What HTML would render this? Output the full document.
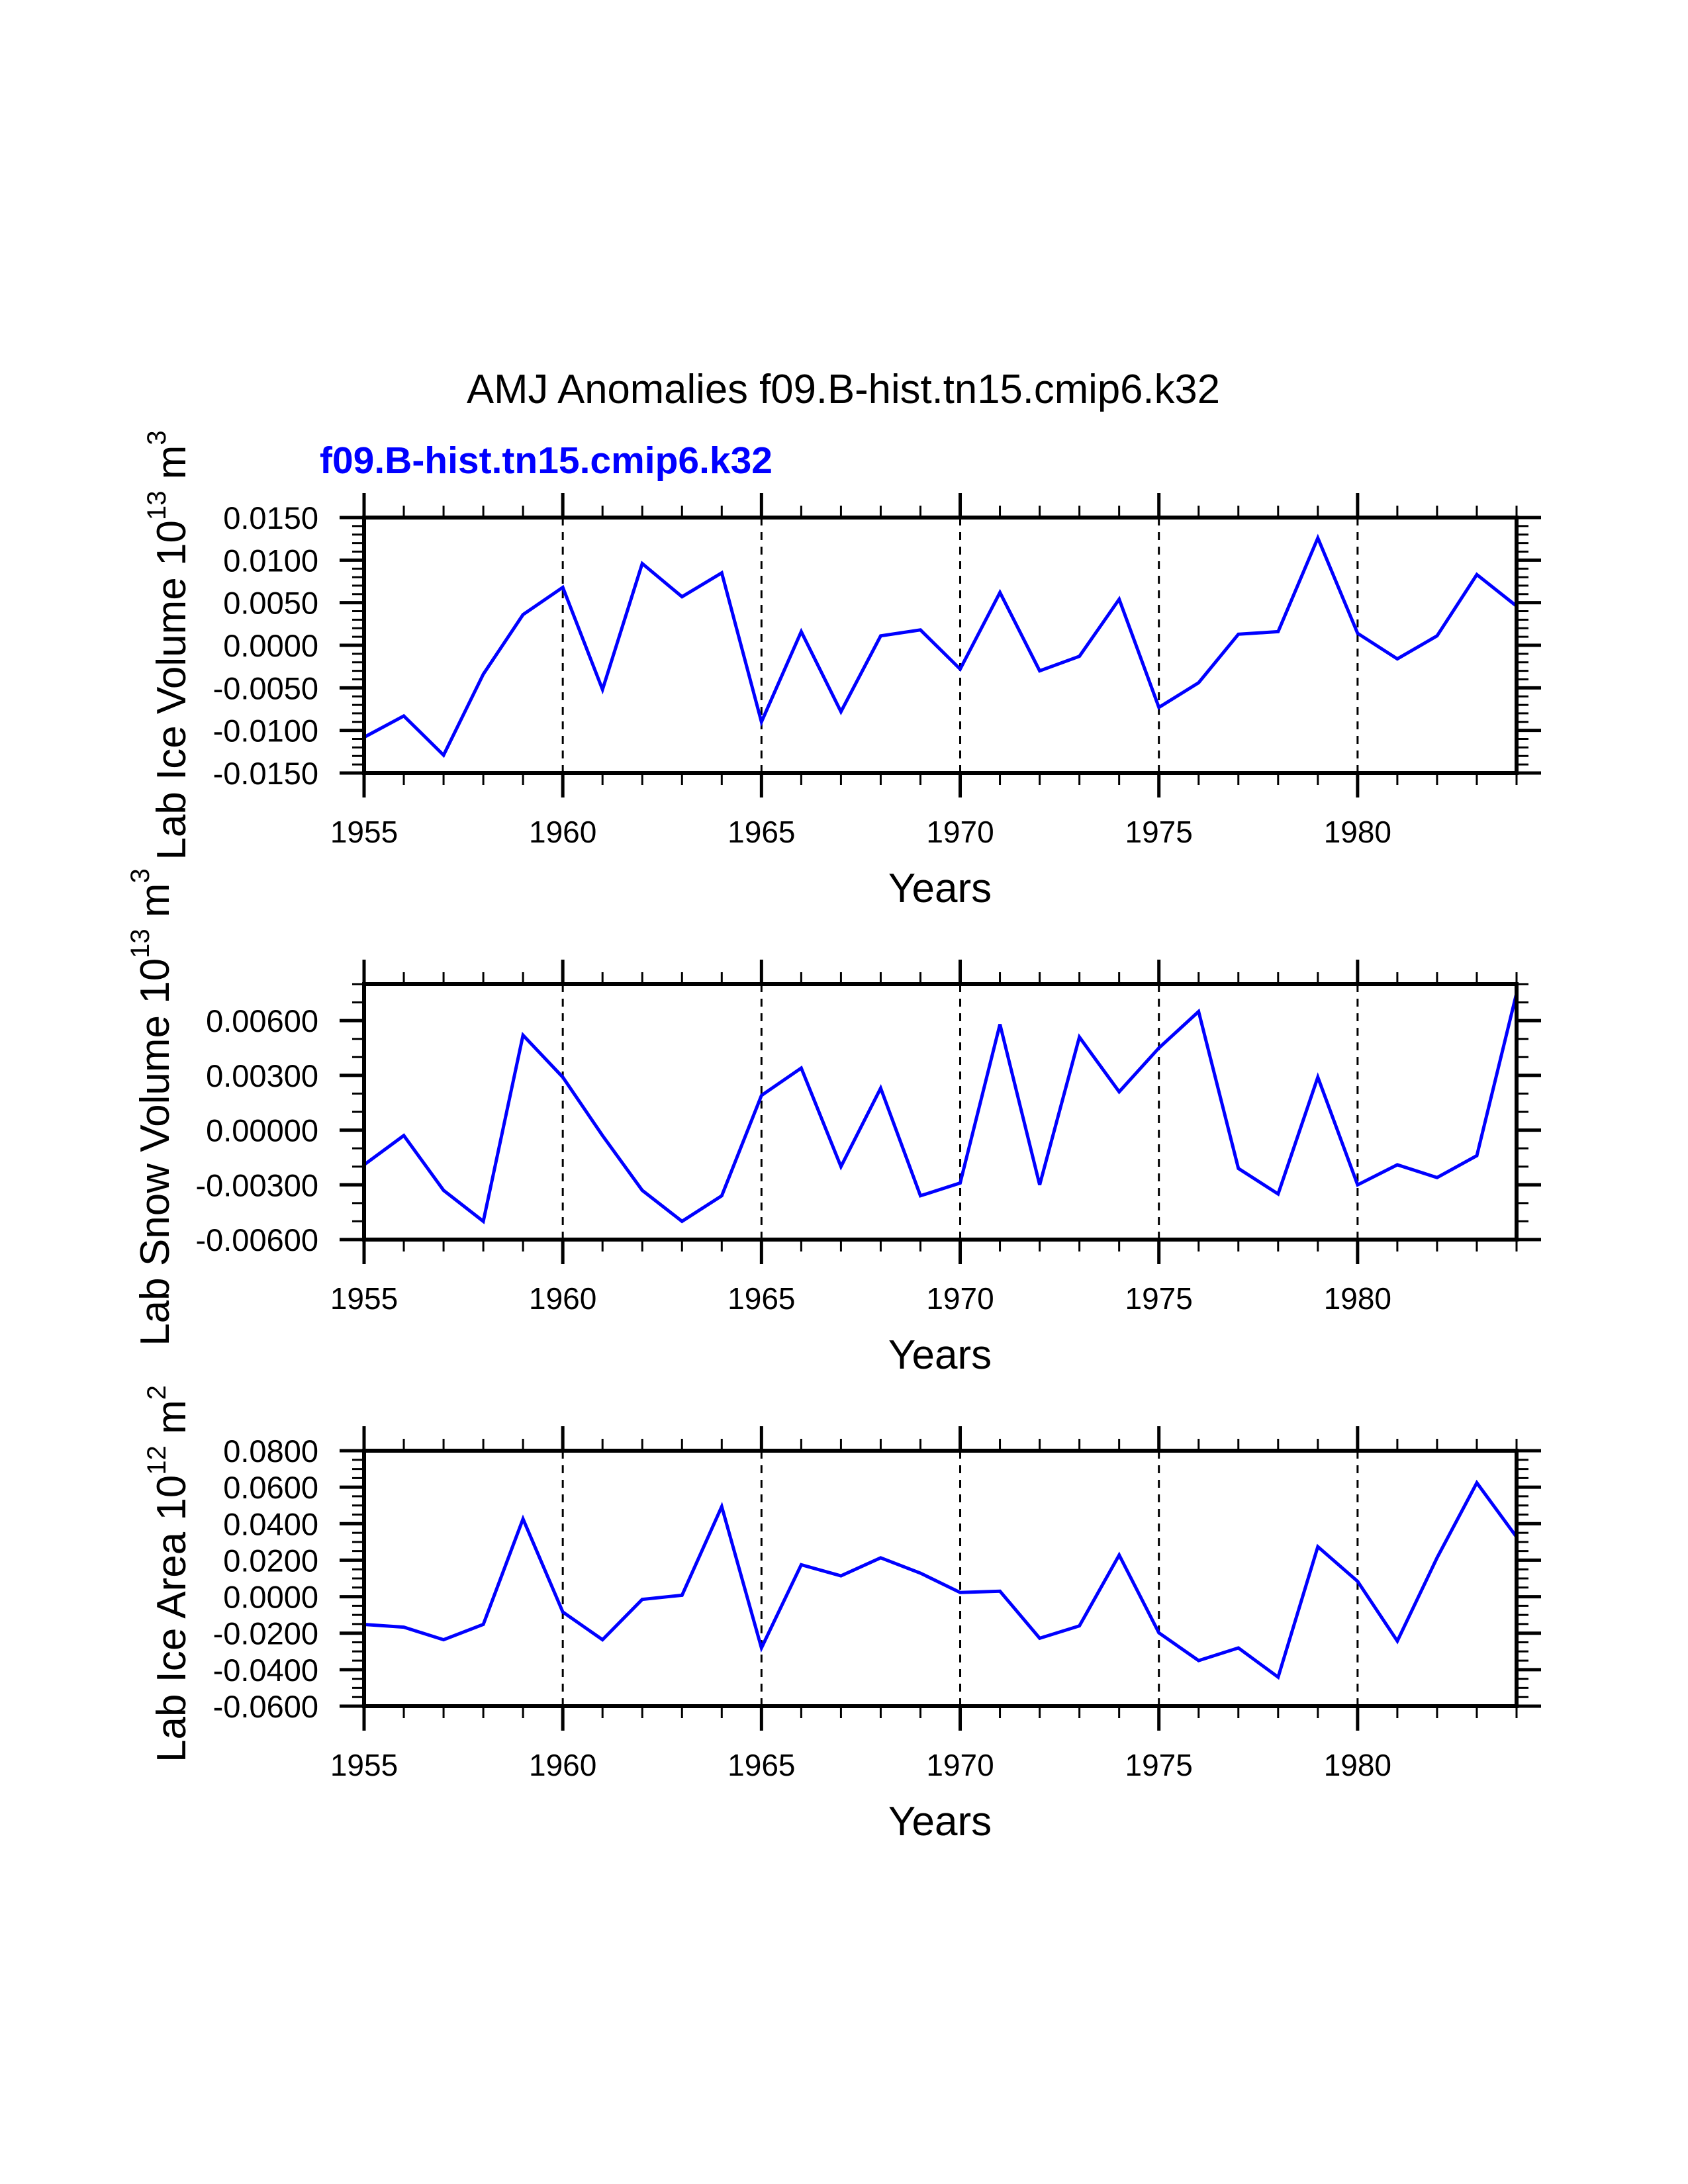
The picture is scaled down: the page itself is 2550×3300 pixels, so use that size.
<!DOCTYPE html>
<html>
<head>
<meta charset="utf-8">
<style>
  html, body { margin: 0; padding: 0; background: #fff; }
  svg { display: block; }
  text { font-family: "Liberation Sans", "DejaVu Sans", sans-serif; }
</style>
</head>
<body>
<svg id="chart" width="2550" height="3300" viewBox="0 0 2550 3300" xmlns="http://www.w3.org/2000/svg">
  <rect x="0" y="0" width="2550" height="3300" fill="#fff"/>
  <text x="705" y="609" font-size="62" textLength="1138" lengthAdjust="spacingAndGlyphs" fill="#000">AMJ Anomalies f09.B-hist.tn15.cmip6.k32</text>
  <text x="483" y="715" font-size="57" font-weight="bold" textLength="684" lengthAdjust="spacingAndGlyphs" fill="#0000ff">f09.B-hist.tn15.cmip6.k32</text>
</svg>
<script>
const years = [1955,1956,1957,1958,1959,1960,1961,1962,1963,1964,1965,1966,1967,1968,1969,1970,1971,1972,1973,1974,1975,1976,1977,1978,1979,1980,1981,1982,1983,1984];
const iceVolume = [-0.0108,-0.0083,-0.0129,-0.0034,0.0036,0.0068,-0.0052,0.0096,0.0057,0.0085,-0.0090,0.0016,-0.0078,0.0011,0.0018,-0.0028,0.0062,-0.0030,-0.0013,0.0054,-0.0073,-0.0044,0.0013,0.0016,0.0126,0.0014,-0.0016,0.0011,0.0083,0.0046];
const snowVolume = [-0.0019,-0.0003,-0.0033,-0.0050,0.0052,0.0029,-0.0003,-0.0033,-0.0050,-0.0036,0.0019,0.0034,-0.0020,0.0023,-0.0036,-0.0029,0.0058,-0.0030,0.0051,0.0021,0.0045,0.0065,-0.0021,-0.0035,0.0029,-0.0030,-0.0019,-0.0026,-0.0014,0.0075];
const iceArea = [-0.0152,-0.0167,-0.0236,-0.0152,0.0426,-0.0084,-0.0236,-0.0015,0.0008,0.0494,-0.0281,0.0175,0.0114,0.0213,0.0129,0.0023,0.0030,-0.0228,-0.0160,0.0228,-0.0198,-0.0350,-0.0281,-0.0441,0.0274,0.0084,-0.0243,0.0213,0.0624,0.0327];
const iceVolumeTicks = ["-0.0150","-0.0100","-0.0050","0.0000","0.0050","0.0100","0.0150"];
const snowVolumeTicks = ["-0.00600","-0.00300","0.00000","0.00300","0.00600"];
const iceAreaTicks = ["-0.0600","-0.0400","-0.0200","0.0000","0.0200","0.0400","0.0600","0.0800"];
const xTickLabels = ["1955","1960","1965","1970","1975","1980"];

const NS = "http://www.w3.org/2000/svg";
const svg = document.getElementById('chart');
const X0 = 550, X1 = 2291, H = 386;
function mk(tag, attrs, parent) {
  const e = document.createElementNS(NS, tag);
  for (const k in attrs) e.setAttribute(k, attrs[k]);
  parent.appendChild(e);
  return e;
}

function panel(cfg) {
  const g = mk('g', {}, svg);
  
  
  const top = cfg.top, bot = top + H;
  const xs = v => X0 + (v - years[0]) / (years[years.length-1] - years[0]) * (X1 - X0);
  const ys = v => bot - (v - cfg.ymin) / (cfg.ymax - cfg.ymin) * H;

  for (let yr = 1960; yr < years[years.length-1]; yr += 5) {
    const l = mk('line', {x1: xs(yr), x2: xs(yr), y1: top, y2: bot, stroke: '#000', 'stroke-width': 3, 'stroke-dasharray': '12,10'}, g);
    
    
  }
  for (let yr = years[0]; yr <= years[years.length-1]; yr++) {
    const major = (yr % 5 === 0);
    const len = major ? 37 : 18, w = major ? 5 : 3;
    const tb = mk('line', {x1: xs(yr), x2: xs(yr), y1: bot, y2: bot + len, stroke: '#000', 'stroke-width': w}, g);
    
    
    const tt = mk('line', {x1: xs(yr), x2: xs(yr), y1: top, y2: top - len, stroke: '#000', 'stroke-width': w}, g);
    
    
  }
  xTickLabels.forEach(s => {
    const t = mk('text', {x: xs(+s), y: bot + 105, 'font-size': 46, 'text-anchor': 'middle'}, g);
    t.textContent = s;
    
    
  });
  const nMinor = cfg.minorStep;
  const nSteps = Math.round((cfg.ymax - cfg.ymin) / nMinor);
  for (let i = 0; i <= nSteps; i++) {
    const v = cfg.ymin + i * nMinor;
    const rel = Math.abs((v - cfg.majorBase) / cfg.majorStep);
    const major = Math.abs(rel - Math.round(rel)) < 1e-6;
    const len = major ? 37 : 18, w = major ? 5 : 3;
    const tl = mk('line', {x1: X0, x2: X0 - len, y1: ys(v), y2: ys(v), stroke: '#000', 'stroke-width': w}, g);
    
    
    const tr = mk('line', {x1: X1, x2: X1 + len, y1: ys(v), y2: ys(v), stroke: '#000', 'stroke-width': w}, g);
    
    
  }
  cfg.ticks.forEach(s => {
    const t = mk('text', {x: 481, y: ys(parseFloat(s)) + 17, 'font-size': 47, 'text-anchor': 'end'}, g);
    t.textContent = s;
    
    
  });
  const pts = years.map((yr, i) => xs(yr).toFixed(1) + ',' + ys(cfg.data[i]).toFixed(1)).join(' ');
  const pl = mk('polyline', {points: pts, fill: 'none', stroke: '#0000ff', 'stroke-width': 5, 'stroke-linejoin': 'miter'}, g);
  
  
  const fr = mk('rect', {x: X0, y: top, width: X1 - X0, height: H, fill: 'none', stroke: '#000', 'stroke-width': 6}, g);
  
  
  const xt = mk('text', {x: 1420, y: bot + 195, 'font-size': 62, 'text-anchor': 'middle'}, g);
  xt.textContent = 'Years';
  
  
  const yt = mk('text', {x: 0, y: 0, 'font-size': 62, 'text-anchor': 'middle', transform: 'translate(' + cfg.titleX + ',' + cfg.titleY + ') rotate(-90)'}, g);
  
  
  const p1 = mk('tspan', {}, yt); p1.textContent = cfg.title + ' 10';
  const p2 = mk('tspan', {dy: -30, 'font-size': 40}, yt); p2.textContent = cfg.exp;
  const p3 = mk('tspan', {dy: 30}, yt); p3.textContent = ' m';
  const p4 = mk('tspan', {dy: -30, 'font-size': 40}, yt); p4.textContent = cfg.unitExp;
}

panel({name: 'ice-volume-panel', top: 782, ymin: -0.015, ymax: 0.015, majorStep: 0.005, majorBase: 0, minorStep: 0.001, ticks: iceVolumeTicks, data: iceVolume, title: 'Lab Ice Volume', exp: '13', unitExp: '3', titleX: 280, titleY: 975});
panel({name: 'snow-volume-panel', top: 1487, ymin: -0.006, ymax: 0.008, majorStep: 0.003, majorBase: 0, minorStep: 0.001, ticks: snowVolumeTicks, data: snowVolume, title: 'Lab Snow Volume', exp: '13', unitExp: '3', titleX: 255, titleY: 1673});
panel({name: 'ice-area-panel', top: 2192, ymin: -0.06, ymax: 0.08, majorStep: 0.02, majorBase: 0, minorStep: 0.005, ticks: iceAreaTicks, data: iceArea, title: 'Lab Ice Area', exp: '12', unitExp: '2', titleX: 280, titleY: 2378});
</script>
</body>
</html>
